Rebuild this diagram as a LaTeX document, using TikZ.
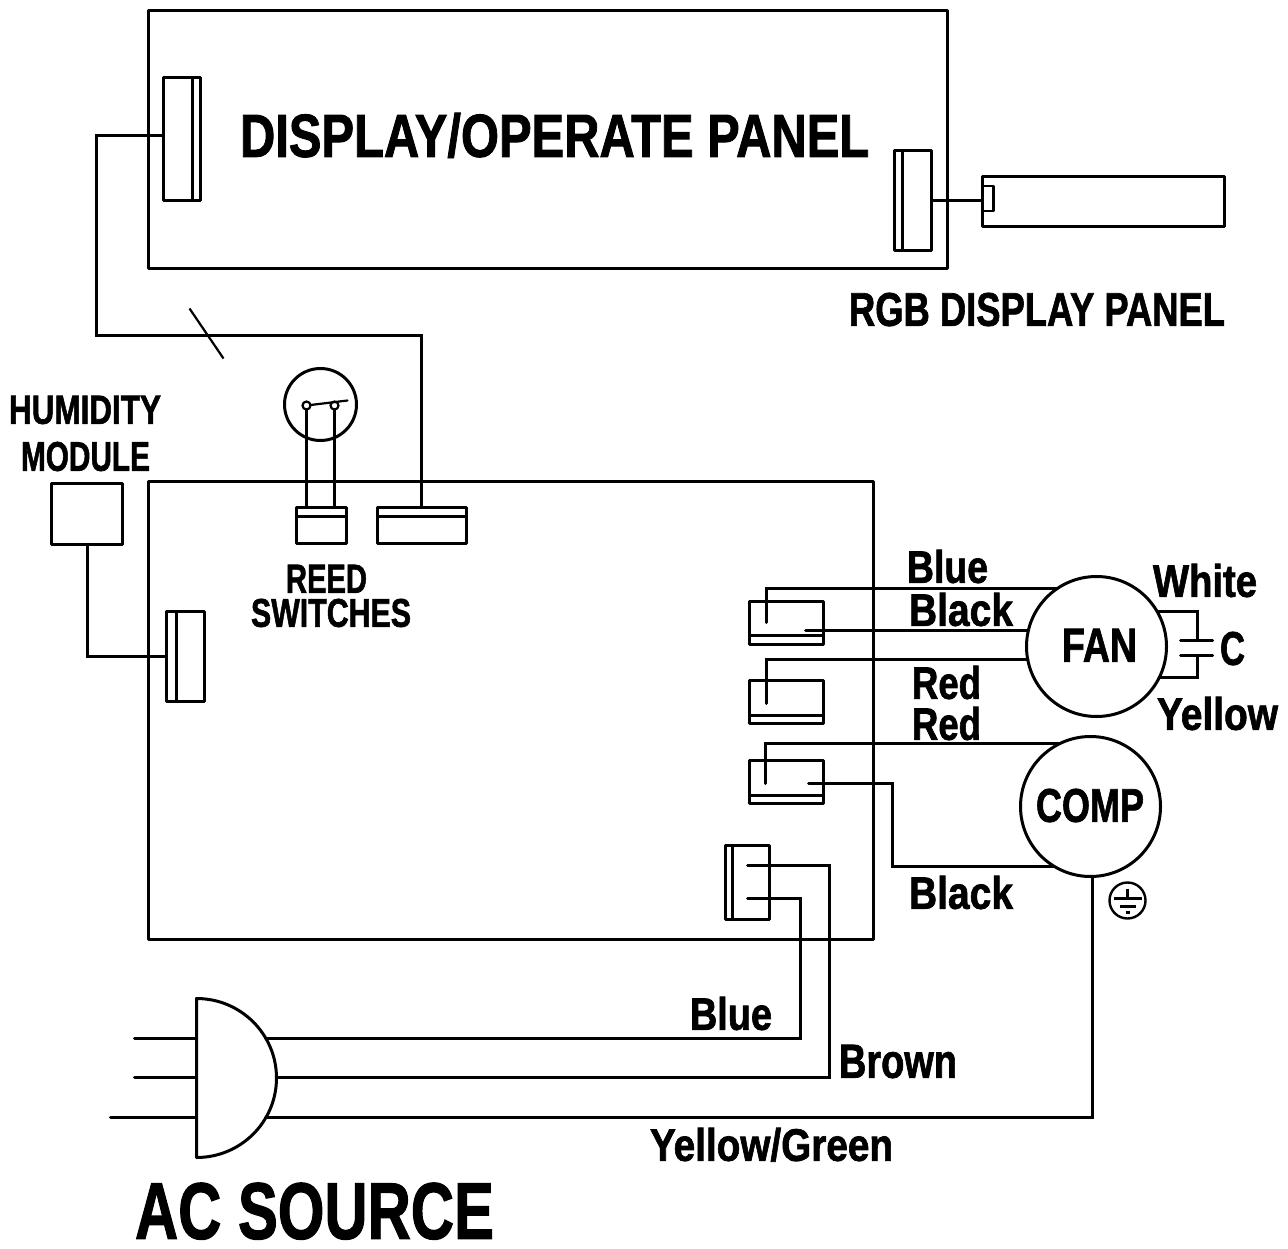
\documentclass[tikz,border=0pt]{standalone}
\usepackage{graphicx}
\usepackage{fontspec}
\setmainfont[BoldFeatures={FakeBold=1.6}]{Liberation Sans}
\newcommand{\lbl}[6]{\node[lbl,xshift=-1pt,yshift=1.2pt] (#1) at (#2,#3) {\resizebox{\dimexpr#4pt+2pt\relax}{#5pt}{\bfseries #6}};}
\tikzset{
  lbl/.style={anchor=base west,inner sep=0pt,outer sep=0pt,text=black},
  wire/.style={line width=3pt,line join=miter,line cap=round},
  thinwire/.style={line width=2.2pt},
  box/.style={draw,line width=3pt,inner sep=0pt,outer sep=0pt,anchor=north west,line join=round},
  motor/.style={draw,circle,line width=3pt,inner sep=0pt,outer sep=0pt},
  pin/.style={draw,circle,line width=2.2pt,inner sep=0pt,outer sep=0pt,minimum size=8pt,fill=white}
}
\begin{document}
\begin{tikzpicture}[x=1pt,y=-1pt]
\useasboundingbox (0,0) rectangle (1288,1249);
\begin{scope}[xshift=-0.5pt,yshift=-0.5pt]
% panels
\node[box,minimum width=799pt,minimum height=258pt] (panel) at (149,10) {};
\node[box,minimum width=725pt,minimum height=458pt] (main) at (149,481) {};
% panel connectors
\node[box,minimum width=37pt,minimum height=123pt] (cl) at (164,77) {};
\draw[thinwire] (193,77) -- (193,200);
\node[box,minimum width=37pt,minimum height=100pt] (cr) at (895,150) {};
\draw[thinwire] (903,150) -- (903,250);
% RGB panel
\node[box,minimum width=242pt,minimum height=50pt] (rgb) at (983,176) {};
\node[box,line width=2.4pt,minimum width=11pt,minimum height=25pt] (rgbc) at (983,185.5) {};
\coordinate (rw) at (932,200);
\draw[thinwire] (rw) -- (rw -| rgbc.west);
% cable
\coordinate (cw) at (97,135);
\draw[wire] (cw -| cl.west) -- (cw) -- (97,335) -- (422,335) coordinate (bus) -- (422,507) coordinate (bustop);
\coordinate (s1) at (190,308);
\coordinate (s2) at (224,358);
\draw[thinwire] (s1) -- (s2);
% reed
\node[box,minimum width=50pt,minimum height=36pt] (r1) at (297,507) {};
\draw[thinwire] (297,516) -- (347,516);
\node[box,minimum width=89pt,minimum height=36pt] (r2) at (378,507) {};
\draw[thinwire] (378,516) -- (467,516);
\node[motor,minimum size=72pt] (reed) at (321,404) {};
\node[pin] (ra) at (307,405) {};
\node[pin] (rb) at (335,405) {};
\coordinate (rc) at (348,400);
\draw[thinwire,line cap=round] (ra) -- (rc);
\draw[wire] (ra.south) -- (ra.south |- r1.north);
\draw[wire] (rb.south) -- (rb.south |- r1.north);
% humidity
\node[box,minimum width=71pt,minimum height=61pt] (hum) at (52,483) {};
\node[box,minimum width=38pt,minimum height=90pt] (ch) at (167,611) {};
\draw[thinwire] (177,611) -- (177,701);
\draw[wire] (hum.south) |- (ch.west);
% right connectors
\node[box,minimum width=74pt,minimum height=43pt] (k1) at (750,601) {};
\draw[thinwire] (750,635) -- (824,635);
\node[box,minimum width=74pt,minimum height=43pt] (k2) at (750,680) {};
\draw[thinwire] (750,715) -- (824,715);
\node[box,minimum width=74pt,minimum height=43pt] (k3) at (750,760) {};
\draw[thinwire] (750,795) -- (824,795);
\node[box,minimum width=44pt,minimum height=74pt] (k4) at (726,845) {};
\draw[thinwire] (733,845) -- (733,919);
% motors
\node[motor,minimum size=140pt] (fan) at (1097,646) {};
\node[motor,minimum size=140pt] (comp) at (1091,806) {};
% motor wires
\coordinate (a1) at (767,622);
\coordinate (a2) at (806,630);
\coordinate (a3) at (767,703);
\coordinate (a4) at (766,783);
\coordinate (a5) at (809,783);
\draw[wire] (a1) |- (fan.124);
\draw[wire] (a2) -- (a2 -| fan.167);
\draw[wire] (a3) |- (fan.191.5);
\draw[wire] (a4) |- (comp.116);
\draw[wire] (a5) -- (893,783) |- (comp.239);
% capacitor
\coordinate (p1) at (1198,640);
\coordinate (p2) at (1198,655);
\coordinate (p1a) at (1181,640);
\coordinate (p1b) at (1213,640);
\coordinate (p2a) at (1181,655);
\coordinate (p2b) at (1213,655);
\draw[wire] (fan.30) -| (p1);
\draw[wire] (fan.-26) -| (p2);
\draw[wire] (p1a) -- (p1b);
\draw[wire] (p2a) -- (p2b);
% ground symbol
\node[motor,line width=2.4pt,minimum size=36pt] (gnd) at (1128,900) {};
\coordinate (g0) at (1128,888);
\coordinate (g1) at (1128,898);
\coordinate (g2) at (1114,898);
\coordinate (g3) at (1142,898);
\coordinate (g4) at (1120,906);
\coordinate (g5) at (1136,906);
\coordinate (g6) at (1126,912);
\coordinate (g7) at (1130,912);
\draw[thinwire] (g0) -- (g1) (g2) -- (g3) (g4) -- (g5) (g6) -- (g7);
% plug
\coordinate (pt) at (197,998);
\coordinate (pb) at (197,1157);
\draw[wire,line join=round] (pb) -- (pt) arc[start angle=-90,end angle=90,x radius=80pt,y radius=-79.5pt];
\coordinate (l1) at (135,1038);
\coordinate (l2) at (135,1077);
\coordinate (l3) at (111,1117);
\coordinate (w1) at (266,1038);
\coordinate (w2) at (277,1077);
\coordinate (w3) at (266,1117);
\draw[wire] (l1) -- (l1 -| pt);
\draw[wire] (l2) -- (l2 -| pt);
\draw[wire] (l3) -- (l3 -| pt);
\coordinate (b1) at (748,898);
\coordinate (b2) at (748,865);
\draw[wire] (b1) -- (801,898) |- (w1);
\draw[wire] (b2) -- (830,865) |- (w2);
\draw[wire] (comp.272) -- (comp.272 |- w3) -- (w3);
\end{scope}
% labels
\lbl{t1}{241}{158}{627}{44}{DISPLAY/OPERATE PANEL}
\lbl{t2}{850}{327}{374}{33}{RGB DISPLAY PANEL}
\lbl{t3}{10}{425}{150}{28}{HUMIDITY}
\lbl{t4}{22}{472}{127}{29}{MODULE}
\lbl{t5}{287}{594}{79}{28}{REED}
\lbl{t6}{252}{628}{158}{28}{SWITCHES}
\lbl{t7}{908}{584}{79}{33}{Blue}
\lbl{t8}{910}{627}{102}{33}{Black}
\lbl{t9}{1154}{598}{102}{33}{White}
\lbl{t10}{1221}{666}{23}{33}{C}
\lbl{t11}{1063}{663}{73}{33}{FAN}
\lbl{t12}{913}{700}{67}{33}{Red}
\lbl{t13}{913}{741}{67}{33}{Red}
\lbl{t14}{1158}{731}{119}{33}{Yellow}
\lbl{t15}{1037}{823}{106}{33}{COMP}
\lbl{t16}{910}{910}{102}{33}{Black}
\lbl{t17}{691}{1031}{80}{33}{Blue}
\lbl{t18}{840}{1079}{116}{33}{Brown}
\lbl{t19}{651}{1162}{241}{33}{Yellow/Green}
\lbl{t20}{136}{1240}{357}{56}{AC SOURCE}
\end{tikzpicture}
\end{document}
